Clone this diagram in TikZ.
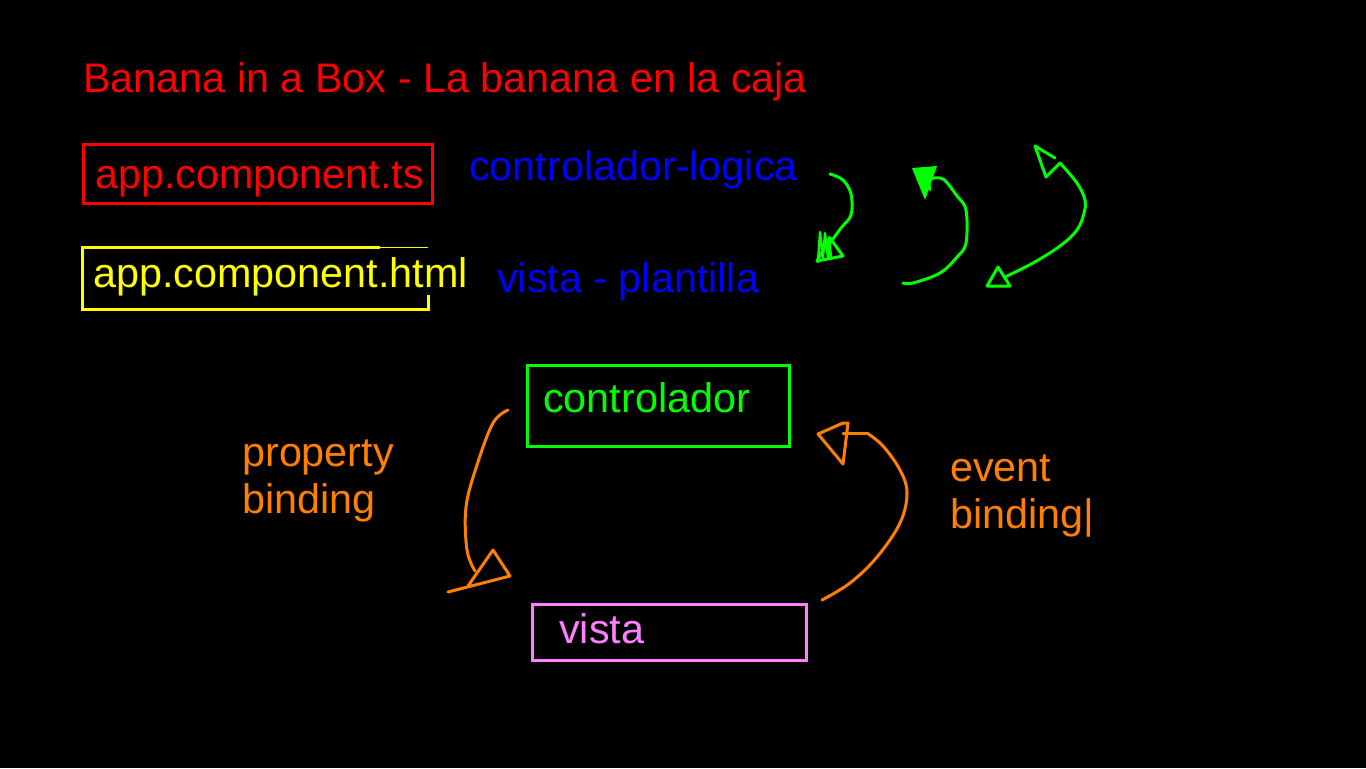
\documentclass[tikz,border=0pt]{standalone}
\usepackage{fontspec}
\setmainfont{Liberation Sans}
\usepackage{tikz}
\usetikzlibrary{positioning}
\usepackage{xcolor}
\definecolor{inkred}{HTML}{FF0000}
\definecolor{inkyellow}{HTML}{FFFF00}
\definecolor{inkblue}{HTML}{0000FF}
\definecolor{inkgreen}{HTML}{00FF00}
\definecolor{inkorange}{HTML}{FF8000}
\definecolor{inkviolet}{HTML}{FF80FF}
\tikzset{
  inktext/.style={
    font=\fontsize{31}{35}\selectfont, text=#1,
    inner sep=0pt, anchor=base west, align=left
  },
  inktext/.default=inkred,
  frame/.style={draw=#1, line width=2.25pt},
  stroke/.style={draw=#1, line width=2.25pt, line cap=round, line join=round},
  scribble/.style={stroke=#1, line width=1.8pt},
}

\begin{document}
\begin{tikzpicture}[x=0.75pt, y=-0.75pt]

% Board
\fill[black] (0,0) rectangle (1366,768);
\useasboundingbox (0,0) rectangle (1366,768);

% Title and files
\node[inktext=inkred] (title) at (83,92) {Banana in a Box - La banana en la caja};
\node[inktext=inkred] (ts) at (95,188) {app.component.ts};
\node[inktext=inkyellow] (html) at (93,287) {app.component.html};
\node[inktext=inkblue] (logic) at (469,180) {controlador-logica};
\node[inktext=inkblue] (tmpl) at (497,292) {vista - plantilla};

\draw[frame=inkred] (83,144) rectangle (432,203);
\draw[frame=inkyellow] (380,247) -| (82,309) -| (428,295);
\draw[inkyellow, line width=0.75pt] (380,247) -- (428,247);

% Controller and view
\node[inktext=inkgreen] (ctrl) at (543,412) {controlador};
\node[inktext=inkviolet] (view) at (559,643) {vista};
\draw[frame=inkgreen] (527,365) rectangle (789,446);
\draw[frame=inkviolet] (532,604) rectangle (806,660);

% base anchor sits on the last line
\node[inktext=inkorange] (prop) at (242,513) {property\\binding};
\node[inktext=inkorange] (event) at (950,528) {event\\binding|};

% Orange arrows (property binding down, event binding up)
\coordinate (pstart) at (508,410);
\coordinate (ptip) at (475,571);
\draw[stroke=inkorange] plot[smooth, tension=0.6] coordinates
  {(pstart) (493,423) (477,465) (466,507) (467,550) (ptip)};
\draw[stroke=inkorange] (448,592) -- (510,576) -- (493,550) -- (468,586);

\coordinate (estart) at (822,600);
\coordinate (etip) at (843,433);
\draw[stroke=inkorange] plot[smooth, tension=0.6] coordinates
  {(estart) (850,583) (877,557) (900,523) (907,493) (900,470) (883,446) (867,433)};
\draw[stroke=inkorange] (867,433) -- (etip);
\draw[stroke=inkorange] (848,423) -- (843,423) -- (818,434) -- (843,464) -- cycle;

% Green sketches
\coordinate (g1start) at (830,174);
\draw[stroke=inkgreen] plot[smooth, tension=0.6] coordinates
  {(g1start) (843,180) (851,194) (851,215) (841,228) (830,243)};
\draw[stroke=inkgreen] (830,238) -- (843,256) -- (817,261) -- cycle;
\draw[scribble=inkgreen] (818,262) -- (820,232) -- (823,258) -- (825,233) -- (828,258)
  -- (829,237) -- (831,257);

\coordinate (g2start) at (903,283);
\draw[stroke=inkgreen] plot[smooth, tension=0.6] coordinates
  {(g2start) (913,283) (940,273) (957,257) (966,243) (966,210) (957,196) (943,179) (930,179)};
\fill[inkgreen] (912,168) -- (937,166) -- (925,200) -- cycle;
\draw[scribble=inkgreen] (914,170) -- (925,183) -- (928,172) -- (930,190);

\coordinate (g3start) at (1005,277);
\draw[stroke=inkgreen] plot[smooth, tension=0.6] coordinates
  {(g3start) (1033,263) (1060,246) (1077,230) (1084,213) (1085,200) (1077,183) (1060,163)};
\draw[stroke=inkgreen] (1055,158) -- (1035,146) -- (1046,177) -- (1060,163);
\draw[stroke=inkgreen] (998,267) -- (1010,286) -- (987,286) -- cycle;

\end{tikzpicture}
\end{document}
